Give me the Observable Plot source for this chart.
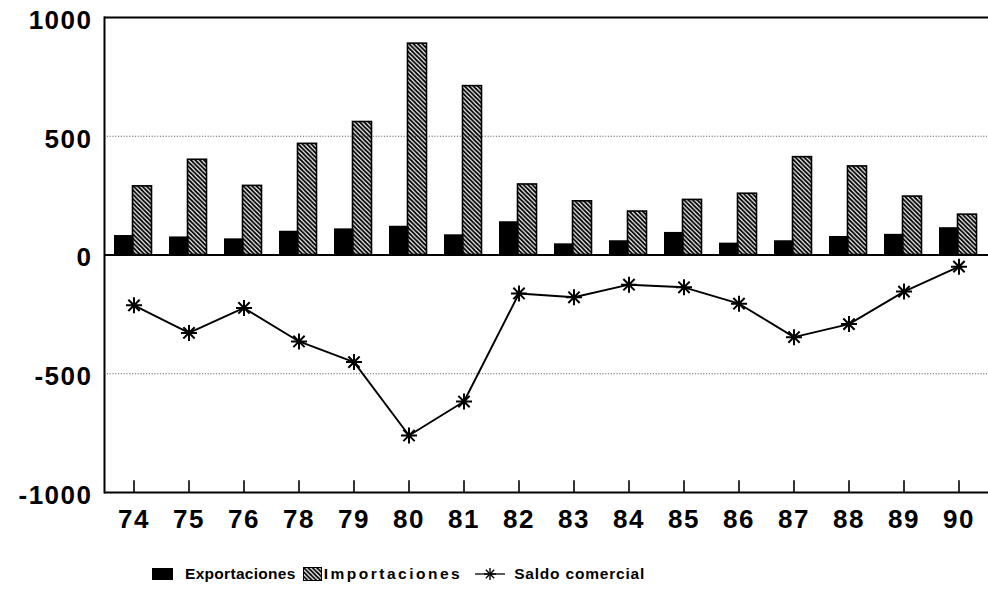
<!DOCTYPE html>
<html>
<head>
<meta charset="utf-8">
<script src="https://cdn.jsdelivr.net/npm/d3@7"></script>
<script src="https://cdn.jsdelivr.net/npm/@observablehq/plot@0.6"></script>
<style>
  body { margin: 0; background: #fff; font-family: "Liberation Sans", Arial, sans-serif; }
  #legend { display: flex; align-items: center; padding-left: 152px; margin-top: 20px; font-weight: bold; font-size: 15.5px; color: #000; }
  #legend span { white-space: nowrap; }
</style>
</head>
<body>
<div id="chart"></div>
<div id="legend">
  <svg width="21" height="12" style="margin-right:12px"><rect width="21" height="12" fill="#000"/></svg>
  <span style="letter-spacing:0.3px;margin-right:7px">Exportaciones</span>
  <svg width="19" height="14" style="margin-right:2px">
    <defs><pattern id="hatchL" patternUnits="userSpaceOnUse" width="4.4" height="4.4"><path d="M-1,-1L5.4,5.4M-1,3.4L1,5.4M3.4,-1L5.4,1" stroke="#000" stroke-width="1.8"/></pattern></defs>
    <rect x="0.5" y="0.5" width="18" height="13" fill="url(#hatchL)" stroke="#000" stroke-width="1"/>
  </svg>
  <span style="letter-spacing:2.5px;margin-right:13px">Importaciones</span>
  <svg width="30" height="16" style="margin-right:9px">
    <line x1="0" y1="8" x2="30" y2="8" stroke="#000" stroke-width="1.3"/>
    <g stroke="#000" stroke-width="1.4"><line x1="15" y1="2" x2="15" y2="14"/><line x1="9" y1="8" x2="21" y2="8"/><line x1="10.8" y1="3.8" x2="19.2" y2="12.2"/><line x1="10.8" y1="12.2" x2="19.2" y2="3.8"/></g>
  </svg>
  <span style="letter-spacing:0.8px">Saldo comercial</span>
</div>
<script>
const years = ["74","75","76","78","79","80","81","82","83","84","85","86","87","88","89","90"];
const exportaciones = [82, 76, 68, 100, 110, 121, 85, 140, 47, 60, 95, 50, 60, 78, 87, 115];
const importaciones = [289, 401, 291, 468, 560, 890, 711, 297, 226, 183, 232, 258, 412, 373, 246, 170];
const saldo = [-212, -328, -223, -364, -451, -760, -617, -162, -178, -125, -136, -205, -346, -291, -154, -49];
const yTicks = [1000, 500, 0, -500, -1000];
const gridTicks = [500, -500];

const expData = years.map((y, i) => ({year: y, value: exportaciones[i]}));
const impData = years.map((y, i) => ({year: y, value: importaciones[i]}));
const salData = years.map((y, i) => ({year: y, value: saldo[i]}));

const star8 = {
  draw(context, size) {
    const r = Math.sqrt(size / Math.PI);
    const d = r * Math.SQRT1_2;
    context.moveTo(0, -r); context.lineTo(0, r);
    context.moveTo(-r, 0); context.lineTo(r, 0);
    context.moveTo(-d, -d); context.lineTo(d, d);
    context.moveTo(-d, d); context.lineTo(d, -d);
  }
};

const chart = Plot.plot({
  width: 988,
  height: 545,
  marginTop: 17,
  marginBottom: 53,
  marginLeft: 104,
  marginRight: 0,
  style: {fontFamily: "'Liberation Sans', Arial, sans-serif", fontWeight: "bold", color: "#000", background: "#fff"},
  x: {type: "band", domain: years, padding: 0, label: null},
  y: {domain: [-1000, 1000], label: null},
  marks: [
    Plot.ruleY(gridTicks, {stroke: "#444", strokeWidth: 0.8, strokeDasharray: "1.2,1.6"}),
    Plot.barY(expData, {x: "year", y: "value", fill: "#000", insetLeft: 8, insetRight: 27.5}),
    Plot.barY(impData, {x: "year", y: "value", fill: "url(#hatch)", stroke: "#000", strokeWidth: 1.6, insetLeft: 26.5, insetRight: 9.5}),
    Plot.ruleY([0], {stroke: "#000", strokeWidth: 1.8}),
    Plot.ruleY([1000], {stroke: "#000", strokeWidth: 2}),
    Plot.ruleY([-1000], {stroke: "#000", strokeWidth: 2}),
    Plot.frame({anchor: "left", stroke: "#000", strokeWidth: 2}),
    Plot.ruleX(years, {x: d => d, y1: -1000, y2: -950, stroke: "#000", strokeWidth: 1.6}),
    Plot.line(salData, {x: "year", y: "value", stroke: "#000", strokeWidth: 1.9}),
    Plot.dot(salData, {x: "year", y: "value", symbol: star8, r: 8, stroke: "#000", strokeWidth: 2, fill: "none"}),
    Plot.axisY({ticks: yTicks, tickSize: 0, tickPadding: 12, fontSize: 26, dy: 3, tickFormat: d => d < 0 ? "-" + Math.abs(d) : String(d)}),
    Plot.axisX({tickSize: 0, tickPadding: 17, fontSize: 26})
  ]
});

const ns = "http://www.w3.org/2000/svg";
const defs = document.createElementNS(ns, "defs");
defs.innerHTML = '<pattern id="hatch" patternUnits="userSpaceOnUse" width="4.4" height="4.4"><path d="M-1,-1L5.4,5.4M-1,3.4L1,5.4M3.4,-1L5.4,1" stroke="#000" stroke-width="1.9"/></pattern>';
chart.insertBefore(defs, chart.firstChild);
chart.querySelectorAll('[aria-label="y-axis tick label"] text').forEach(t => t.style.letterSpacing = "1.5px");
chart.querySelectorAll('[aria-label="x-axis tick label"] text').forEach(t => t.style.letterSpacing = "1.5px");
document.getElementById("chart").appendChild(chart);
</script>
</body>
</html>
